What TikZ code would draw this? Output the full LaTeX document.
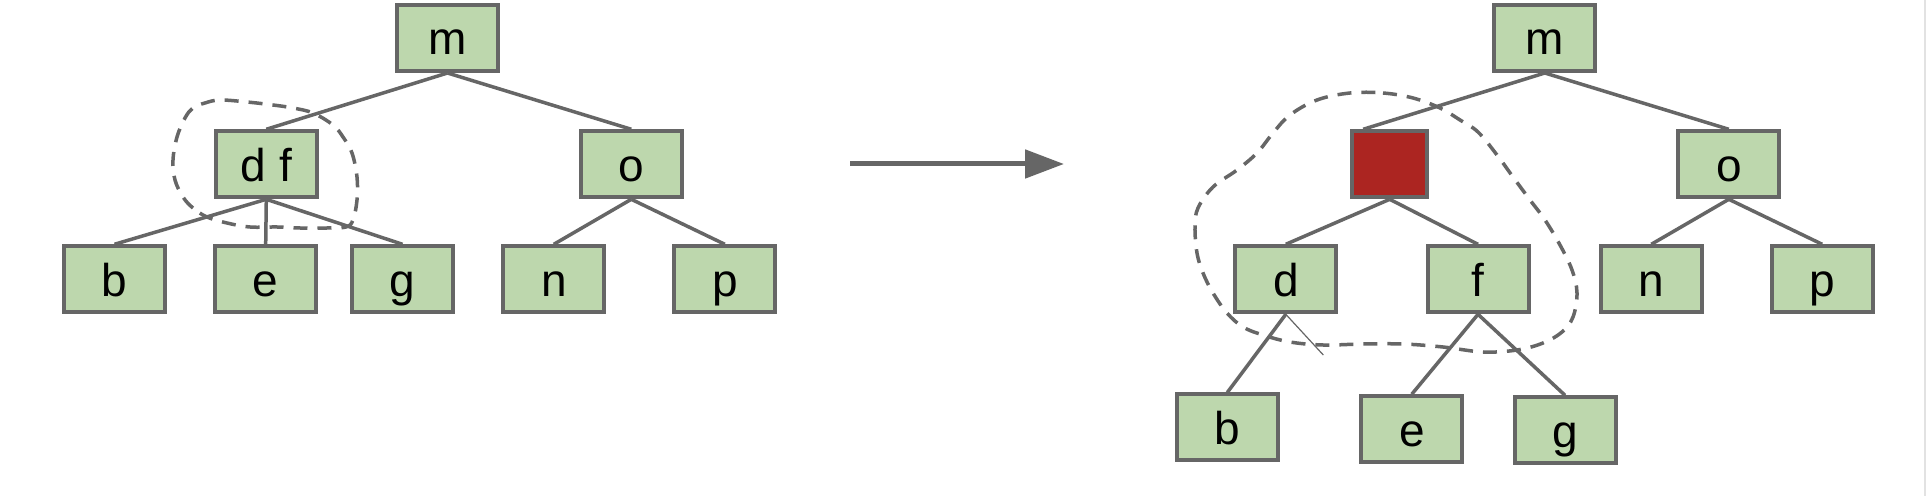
\documentclass[tikz,border=0pt]{standalone}
\usepackage{fontspec}
\setmainfont{Liberation Sans}
\usetikzlibrary{arrows.meta}
\definecolor{edgegray}{HTML}{666666}
\definecolor{nodegreen}{HTML}{BDD7AD}
\definecolor{nodered}{HTML}{AC2521}
\definecolor{pageline}{HTML}{E2E2E2}
\tikzset{
  nd/.style={draw=edgegray, fill=nodegreen, line width=2pt, minimum width=50.5pt,
    minimum height=33pt, inner sep=0pt, text height=17pt, text depth=0pt,
    font=\fontsize{23}{27}\selectfont},
  rednd/.style={nd, fill=nodered, minimum width=37.5pt},
  ln/.style={draw=edgegray, line width=1.75pt},
  thinln/.style={draw=edgegray, line width=0.6pt},
  dsh/.style={draw=edgegray, line width=1.75pt, dash pattern=on 7pt off 5pt},
  bigarrow/.style={draw=edgegray, line width=2.5pt, -{Triangle[length=19.5pt,width=14pt]}}
}
\begin{document}
\begin{tikzpicture}[x=0.5pt,y=-0.5pt]
\useasboundingbox (0,0) rectangle (1928,496);
\fill[white] (0,0) rectangle (1928,496);
\draw[pageline, line width=1pt] (1925,0) -- (1925,496);
% left tree
\node[nd] (m1) at (447.5,38) {m};
\node[nd] (df) at (266.3,164.3) {d f};
\node[nd] (o1) at (631.3,164.3) {o};
\node[nd] (b1) at (114.5,279.3) {b};
\node[nd] (e1) at (265.7,279.3) {e};
\node[nd] (g1) at (402.5,279.3) {g};
\node[nd] (n1) at (553.8,279.3) {n};
\node[nd] (p1) at (724.8,279.3) {p};
\draw[ln] (m1.south) -- (df.north);
\draw[ln] (m1.south) -- (o1.north);
\draw[ln] (df.south) -- (b1.north);
\draw[ln] (df.south) -- (e1.north);
\draw[ln] (df.south) -- (g1.north);
\draw[ln] (o1.south) -- (n1.north);
\draw[ln] (o1.south) -- (p1.north);
\draw[dsh] plot[smooth cycle, tension=0.6] coordinates {
 (207,217) (193,208) (183,197) (175,180) (173,160) (177,137) (185,118) (193,108)
 (205,103) (220,100) (247,102) (273,105) (293,108) (313,113) (333,125) (343,137)
 (352,153) (357,177) (357,200) (353,220) (346,227) (327,228) (300,228) (277,227)
 (250,227) (227,223)};
% arrow
\coordinate (arrS) at (850,164);
\coordinate (arrE) at (1064,164);
\draw[bigarrow] (arrS) -- (arrE);
% right tree
\node[nd] (m2) at (1544.8,38) {m};
\node[rednd] (red) at (1389.7,164.3) {};
\node[nd] (o2) at (1728.8,164.3) {o};
\node[nd] (d2) at (1285.8,279.3) {d};
\node[nd] (f2) at (1478,279.3) {f};
\node[nd] (n2) at (1651.3,279.3) {n};
\node[nd] (p2) at (1822.2,279.3) {p};
\node[nd] (b2) at (1227.3,427.5) {b};
\node[nd] (e2) at (1411.8,429.2) {e};
\node[nd] (g2) at (1565,430.3) {g};
\coordinate (stub) at (1323.3,355);
\draw[ln] (m2.south) -- ([xshift=6.5pt]red.north west);
\draw[ln] (m2.south) -- (o2.north);
\draw[ln] (red.south) -- (d2.north);
\draw[ln] (red.south) -- (f2.north);
\draw[ln] (o2.south) -- (n2.north);
\draw[ln] (o2.south) -- (p2.north);
\draw[ln] (d2.south) -- (b2.north);
\draw[thinln] (d2.south) -- (stub);
\draw[ln] (f2.south) -- (e2.north);
\draw[ln] (f2.south) -- (g2.north);
\draw[dsh] plot[smooth cycle, tension=0.6] coordinates {
 (1350,93) (1383,93) (1413,98) (1440,108) (1460,120) (1478,132) (1497,155)
 (1513,177) (1530,200) (1545,220) (1560,245) (1572,270) (1577,293) (1573,317)
 (1562,332) (1543,343) (1517,350) (1483,352) (1443,347) (1403,344) (1363,344)
 (1323,345) (1290,342) (1263,335) (1243,327) (1227,313) (1213,293) (1203,273)
 (1197,253) (1195,227) (1198,208) (1213,187) (1237,170) (1257,153) (1273,133)
 (1290,115) (1317,100)};
\end{tikzpicture}
\end{document}
